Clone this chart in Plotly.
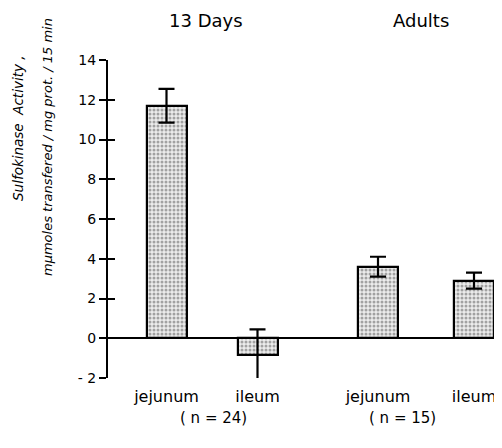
import plotly.graph_objects as go

# ---- data ----
tissues = ["jejunum", "ileum", "jejunum", "ileum"]
groups = ["13 Days", "13 Days", "Adults", "Adults"]
activity = [11.7, -0.85, 3.6, 2.9]
sem = [0.85, 1.3, 0.5, 0.4]
group_titles = ["13 Days", "Adults"]
group_n = ["( n = 24)", "( n = 15)"]
y_ticks = [-2, 0, 2, 4, 6, 8, 10, 12, 14]
y_tick_text = ["- 2", "0", "2", "4", "6", "8", "10", "12", "14"]

# ---- layout positions (not data) ----
bar_pos = [58.5, 149.5, 270, 366]
title_pos = [98, 313]
n_pos = [105, 294]

FONT = "DejaVu Sans"
PH = 318  # plot height in px

fig = go.Figure()
fig.add_trace(go.Bar(
    x=bar_pos, y=activity, width=40,
    marker=dict(color="#e0e0e0",
                line=dict(color="black", width=2.2),
                pattern=dict(shape=".", fgcolor="#555", bgcolor="#ececec",
                             size=4, solidity=0.45)),
    error_y=dict(type="data", array=sem, visible=True,
                 color="black", thickness=2.2, width=8),
    showlegend=False,
))
# invisible trace to activate yaxis2 (inner ticks)
fig.add_trace(go.Scatter(x=[None], y=[None], yaxis="y2", showlegend=False))

fig.update_layout(
    width=494, height=440,
    margin=dict(l=100, r=5, t=52, b=70, autoexpand=False),
    plot_bgcolor="white", paper_bgcolor="white",
    font=dict(family=FONT, color="black"),
    xaxis=dict(range=[0, 389], showline=False, showgrid=False, zeroline=False,
               tickvals=bar_pos, ticktext=tissues, ticks="",
               tickfont=dict(size=16), ticklabelstandoff=7, automargin=False),
    yaxis=dict(range=[-2, 14], showgrid=False, showline=True, linecolor="black",
               linewidth=2, tickvals=y_ticks, ticktext=y_tick_text,
               ticks="outside", ticklen=7, tickwidth=2, tickcolor="black",
               tickfont=dict(size=14), zeroline=True, zerolinecolor="black",
               zerolinewidth=1.6, automargin=False),
    yaxis2=dict(range=[-2, 14], overlaying="y", side="left", anchor="x",
                showgrid=False, showline=False, zeroline=False,
                tickvals=y_ticks, ticks="inside", ticklen=7, tickwidth=2,
                tickcolor="black", showticklabels=False, automargin=False),
    bargap=0,
)

for t, xp in zip(group_titles, title_pos):
    fig.add_annotation(text=t, x=xp, xref="x", y=1 + 40 / PH, yref="paper",
                       xanchor="center", yanchor="middle",
                       showarrow=False, font=dict(size=18))
for t, xp in zip(group_n, n_pos):
    fig.add_annotation(text=t, x=xp, xref="x", y=-40 / PH, yref="paper",
                       xanchor="center", yanchor="middle",
                       showarrow=False, font=dict(size=15))

fig.add_annotation(text="<i>Sulfokinase  Activity ,</i>", textangle=-90,
                   x=-90 / 389, xref="paper", y=(378 - 128) / PH, yref="paper",
                   xanchor="center", yanchor="middle",
                   showarrow=False, font=dict(size=13.5))
fig.add_annotation(text="<i>mμmoles transfered / mg prot. / 15 min</i>", textangle=-90,
                   x=-61 / 389, xref="paper", y=(378 - 147) / PH, yref="paper",
                   xanchor="center", yanchor="middle",
                   showarrow=False, font=dict(size=13))

fig.write_html("out.html")
